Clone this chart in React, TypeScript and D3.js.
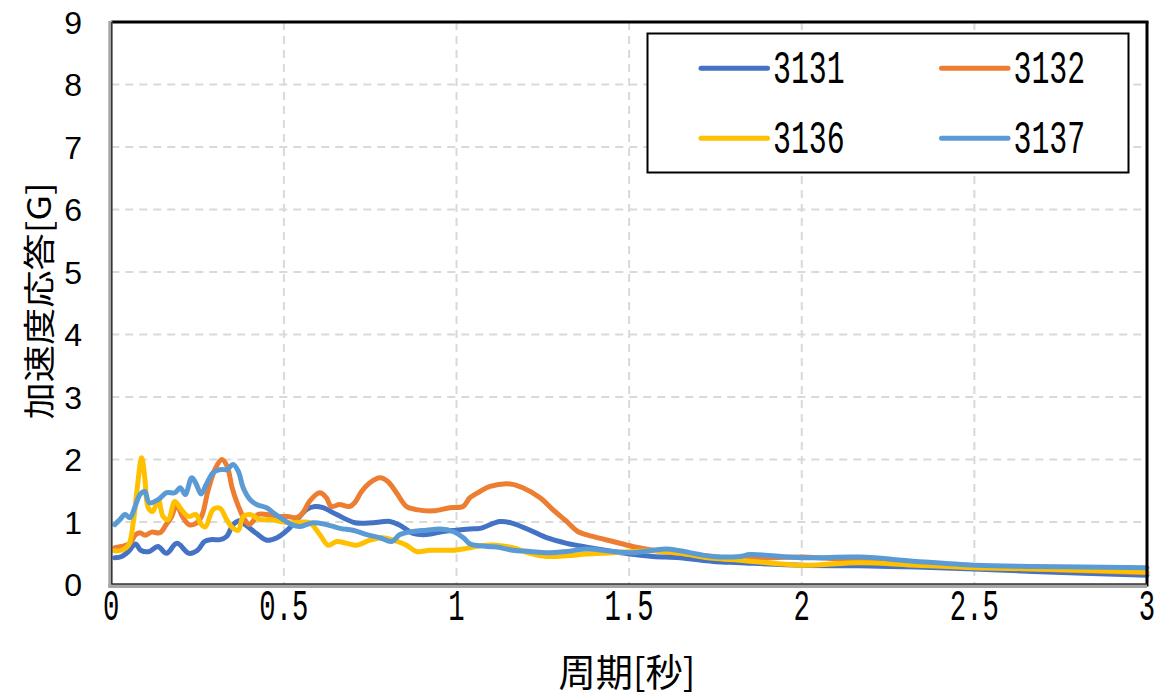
import * as d3 from 'd3';

// 応答スペクトル（周期[秒] vs 加速度応答[G]）
const seriesNames = ['3131', '3132', '3136', '3137'];
const seriesColors = ['#4472C4', '#ED7D31', '#FFC000', '#5B9BD5'];

const xTicks = [0, 0.5, 1, 1.5, 2, 2.5, 3];
const yTicks = [0, 1, 2, 3, 4, 5, 6, 7, 8, 9];

const period3131 = [0.01, 0.03, 0.05, 0.07, 0.085, 0.11, 0.135, 0.16, 0.19, 0.225, 0.25, 0.27, 0.29, 0.315, 0.334, 0.353, 0.372, 0.39, 0.42, 0.45, 0.48, 0.51, 0.54, 0.565, 0.59, 0.613, 0.653, 0.706, 0.758, 0.807, 0.836, 0.874, 0.913, 0.961, 1.0, 1.039, 1.068, 1.126, 1.163, 1.213, 1.261, 1.319, 1.377, 1.453, 1.502, 1.569, 1.647, 1.743, 1.821, 2.0, 2.168, 2.333, 2.5, 2.67, 3.0];
const accel3131 = [0.43, 0.45, 0.53, 0.65, 0.55, 0.53, 0.61, 0.5, 0.66, 0.5, 0.55, 0.69, 0.72, 0.72, 0.77, 0.96, 1.02, 0.95, 0.82, 0.71, 0.75, 0.87, 1.05, 1.2, 1.25, 1.23, 1.12, 0.99, 0.99, 1.01, 0.95, 0.82, 0.8, 0.85, 0.87, 0.89, 0.9, 1.01, 0.98, 0.87, 0.75, 0.66, 0.6, 0.53, 0.49, 0.45, 0.43, 0.37, 0.35, 0.31, 0.3, 0.28, 0.25, 0.21, 0.15];

const period3132 = [0.01, 0.03, 0.054, 0.069, 0.083, 0.098, 0.117, 0.141, 0.16, 0.175, 0.189, 0.205, 0.225, 0.245, 0.262, 0.28, 0.3, 0.32, 0.335, 0.35, 0.365, 0.385, 0.4, 0.41, 0.425, 0.45, 0.48, 0.51, 0.537, 0.555, 0.575, 0.604, 0.623, 0.637, 0.661, 0.69, 0.705, 0.725, 0.749, 0.778, 0.801, 0.826, 0.855, 0.884, 0.932, 0.981, 1.019, 1.039, 1.068, 1.097, 1.155, 1.192, 1.242, 1.279, 1.319, 1.351, 1.395, 1.453, 1.51, 1.569, 1.647, 1.743, 1.821, 2.0, 2.168, 2.333, 2.5, 2.67, 3.0];
const accel3132 = [0.59, 0.61, 0.66, 0.79, 0.83, 0.79, 0.84, 0.83, 0.97, 1.09, 1.28, 1.1, 0.96, 0.98, 1.1, 1.5, 1.84, 2.0, 1.9, 1.55, 1.3, 1.05, 0.96, 1.01, 1.12, 1.12, 1.09, 1.09, 1.07, 1.15, 1.34, 1.47, 1.39, 1.25, 1.28, 1.25, 1.31, 1.49, 1.63, 1.71, 1.65, 1.47, 1.25, 1.2, 1.18, 1.23, 1.25, 1.39, 1.49, 1.57, 1.61, 1.55, 1.39, 1.2, 1.01, 0.85, 0.77, 0.69, 0.61, 0.55, 0.5, 0.45, 0.41, 0.44, 0.38, 0.33, 0.28, 0.25, 0.19];

const period3136 = [0.01, 0.03, 0.05, 0.064, 0.074, 0.088, 0.097, 0.107, 0.12, 0.136, 0.15, 0.165, 0.184, 0.203, 0.223, 0.245, 0.258, 0.272, 0.295, 0.315, 0.334, 0.353, 0.368, 0.382, 0.402, 0.431, 0.46, 0.489, 0.517, 0.547, 0.575, 0.604, 0.628, 0.653, 0.682, 0.711, 0.749, 0.787, 0.816, 0.855, 0.884, 0.923, 0.961, 0.99, 1.029, 1.068, 1.116, 1.163, 1.213, 1.261, 1.319, 1.377, 1.453, 1.51, 1.569, 1.647, 1.743, 1.821, 2.0, 2.168, 2.333, 2.5, 2.67, 3.0];
const accel3136 = [0.54, 0.55, 0.63, 1.01, 1.49, 2.03, 1.71, 1.23, 1.17, 1.36, 1.09, 1.04, 1.33, 1.2, 1.09, 1.12, 0.98, 0.92, 1.2, 1.22, 1.04, 0.9, 0.87, 1.09, 1.12, 1.04, 1.04, 1.01, 0.99, 1.0, 0.99, 0.8, 0.63, 0.69, 0.66, 0.63, 0.71, 0.75, 0.71, 0.63, 0.53, 0.55, 0.55, 0.55, 0.58, 0.62, 0.63, 0.59, 0.5, 0.45, 0.46, 0.49, 0.51, 0.53, 0.54, 0.5, 0.42, 0.39, 0.31, 0.35, 0.31, 0.27, 0.25, 0.2];

const period3137 = [0.01, 0.025, 0.04, 0.054, 0.069, 0.083, 0.097, 0.11, 0.136, 0.16, 0.184, 0.2, 0.214, 0.233, 0.245, 0.26, 0.275, 0.295, 0.315, 0.334, 0.353, 0.368, 0.382, 0.402, 0.421, 0.45, 0.469, 0.498, 0.522, 0.547, 0.584, 0.623, 0.662, 0.7, 0.74, 0.778, 0.812, 0.836, 0.874, 0.913, 0.952, 0.99, 1.02, 1.039, 1.068, 1.116, 1.163, 1.213, 1.261, 1.319, 1.377, 1.453, 1.51, 1.569, 1.608, 1.647, 1.743, 1.821, 1.85, 2.0, 2.168, 2.333, 2.5, 2.67, 3.0];
const accel3137 = [0.96, 1.04, 1.12, 1.07, 1.25, 1.44, 1.49, 1.31, 1.36, 1.47, 1.47, 1.55, 1.44, 1.71, 1.62, 1.45, 1.6, 1.79, 1.84, 1.84, 1.92, 1.81, 1.55, 1.36, 1.28, 1.23, 1.15, 1.04, 0.96, 0.93, 0.99, 0.96, 0.9, 0.87, 0.8, 0.75, 0.69, 0.8, 0.85, 0.87, 0.89, 0.85, 0.75, 0.65, 0.62, 0.6, 0.55, 0.53, 0.51, 0.53, 0.57, 0.53, 0.51, 0.55, 0.57, 0.54, 0.45, 0.45, 0.48, 0.43, 0.44, 0.37, 0.31, 0.29, 0.27];

const periods = [period3131, period3132, period3136, period3137];
const accels = [accel3131, accel3132, accel3136, accel3137];

const width = 1160;
const height = 697;
const margin = { top: 22, right: 13, bottom: 112.4, left: 111.3 };

const monoFont = '"Liberation Mono", "DejaVu Sans Mono", monospace';
const cjkFont = '"Noto Sans CJK JP", "Noto Sans", sans-serif';

export default function App() {
  const x = d3.scaleLinear().domain([0, 3]).range([margin.left, width - margin.right]);
  const y = d3.scaleLinear().domain([0, 9]).range([height - margin.bottom, margin.top]);

  const line = d3.line<[number, number]>()
    .x(d => x(d[0]))
    .y(d => y(d[1]))
    .curve(d3.curveCatmullRom.alpha(0.5));

  const x0 = x(0), x1 = x(3), y0 = y(0), y1 = y(9);

  return (
    <svg width={width} height={height} style={{ position: 'fixed', left: 0, top: 0, background: '#fff' }}>
      <rect x={0} y={0} width={width} height={height} fill="#fff" />

      {/* grid */}
      <g stroke="#D9D9D9" strokeWidth={2} strokeDasharray="8,6">
        {xTicks.slice(1, -1).map(t => (
          <line key={'gx' + t} x1={x(t)} x2={x(t)} y1={y1} y2={y0} />
        ))}
        {yTicks.slice(1, -1).map(t => (
          <line key={'gy' + t} x1={x0} x2={x1} y1={y(t)} y2={y(t)} />
        ))}
      </g>

      {/* series */}
      <g fill="none" strokeWidth={5} strokeLinejoin="round" strokeLinecap="round">
        {seriesNames.map((name, i) => (
          <path
            key={name}
            d={line(periods[i].map((p, j) => [p, accels[i][j]] as [number, number])) || ''}
            stroke={seriesColors[i]}
          />
        ))}
      </g>

      {/* frame */}
      <line x1={x0} x2={x1 + 1.5} y1={y1} y2={y1} stroke="#000" strokeWidth={3} />
      <line x1={x1} x2={x1} y1={y1} y2={y0 + 2} stroke="#000" strokeWidth={3} />
      <line x1={x0 - 1} x2={x0 - 1} y1={y1 - 1} y2={y0 + 2} stroke="#A6A6A6" strokeWidth={4} />
      <line x1={x0 + 0.5} x2={x0 + 0.5} y1={y1} y2={y0} stroke="#333" strokeWidth={1.5} />
      <line x1={x0 - 3} x2={x1} y1={y0 + 1.5} y2={y0 + 1.5} stroke="#A6A6A6" strokeWidth={4} />
      <line x1={x0} x2={x1} y1={y0 - 0.5} y2={y0 - 0.5} stroke="#333" strokeWidth={1.5} />

      {/* y tick labels */}
      <g fontFamily='"Liberation Sans", Arial, sans-serif' fontSize={32} fill="#000" textAnchor="end">
        {yTicks.map(t => (
          <text key={'ty' + t} x={82} y={y(t)} dy="0.36em">{t}</text>
        ))}
      </g>

      {/* x tick labels */}
      <g fontFamily={monoFont} fontSize={44} fill="#000" textAnchor="middle">
        {xTicks.map(t => (
          <text key={'tx' + t} transform={`translate(${x(t)},${620}) scale(0.62,1)`}>{t}</text>
        ))}
      </g>

      {/* axis titles */}
      <text
        fontFamily={cjkFont}
        fontSize={38}
        textAnchor="middle"
        transform={`translate(627,686) scale(0.98,1)`}
      >周期[秒]</text>
      <text
        fontFamily={cjkFont}
        fontSize={38}
        textAnchor="middle"
        transform={`translate(51,301) rotate(-90) scale(0.98,0.85)`}
      >加速度応答[G]</text>

      {/* legend */}
      <rect x={647.5} y={33.5} width={481} height={139} fill="#fff" stroke="#000" strokeWidth={2} />
      {seriesNames.map((name, i) => {
        const lx = i % 2 === 0 ? 701 : 941.5;
        const ly = i < 2 ? 68.3 : 138.3;
        return (
          <g key={'lg' + name}>
            <line x1={lx} x2={lx + 66.5} y1={ly} y2={ly} stroke={seriesColors[i]} strokeWidth={5} strokeLinecap="round" />
            <text
              fontFamily={monoFont}
              fontSize={46}
              transform={`translate(${lx + 72},${ly + 15}) scale(0.65,1)`}
            >{name}</text>
          </g>
        );
      })}
    </svg>
  );
}
